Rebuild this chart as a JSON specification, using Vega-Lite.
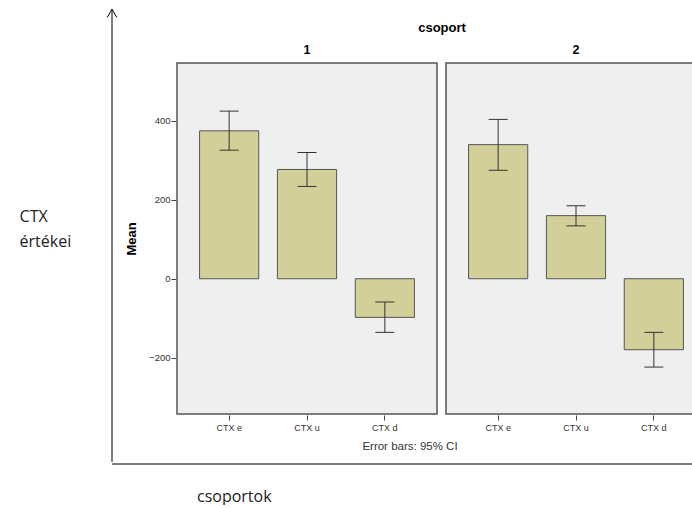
{
  "$schema": "https://vega.github.io/schema/vega-lite/v6.json",
  "background": "white",
  "padding": {"left": 19, "top": 7, "right": 0, "bottom": 0},
  "title": {
    "text": ["CTX", "értékei"],
    "orient": "left",
    "angle": 0,
    "align": "left",
    "baseline": "middle",
    "anchor": "middle",
    "offset": 34,
    "font": "Open Sans",
    "fontSize": 16,
    "fontWeight": "normal",
    "color": "#222222",
    "lineHeight": 25,
    "dy": -39
  },
  "spacing": 0,
  "vconcat": [
    {
      "spacing": 6,
      "hconcat": [
        {
          "width": 1,
          "height": 399,
          "view": {"stroke": null, "fill": null},
          "data": {"values": [{}]},
          "layer": [
            {
              "mark": {"type": "rule", "color": "#000000", "strokeWidth": 1},
              "encoding": {
                "x": {"datum": 0, "scale": {"domain": [0, 1]}, "axis": null},
                "y": {"datum": 0, "scale": {"domain": [0, 1]}, "axis": null},
                "y2": {"datum": 1.135}
              }
            },
            {
              "mark": {"type": "point", "shape": "M-0.8,1.4L0,0L0.8,1.4", "filled": false, "stroke": "#000000", "strokeWidth": 1, "size": 144, "opacity": 1},
              "encoding": {
                "x": {"datum": 0, "axis": null},
                "y": {"datum": 1.135, "axis": null}
              }
            }
          ]
        },
        {
          "data": {
            "values": [
              {"csoport": "1", "valtozo": "CTX e", "mean": 375, "lo": 326, "hi": 425},
              {"csoport": "1", "valtozo": "CTX u", "mean": 277, "lo": 234, "hi": 320},
              {"csoport": "1", "valtozo": "CTX d", "mean": -98, "lo": -136, "hi": -59},
              {"csoport": "2", "valtozo": "CTX e", "mean": 340, "lo": 275, "hi": 404},
              {"csoport": "2", "valtozo": "CTX u", "mean": 160, "lo": 134, "hi": 185},
              {"csoport": "2", "valtozo": "CTX d", "mean": -180, "lo": -224, "hi": -136}
            ]
          },
          "title": {"text": "Error bars: 95% CI", "orient": "bottom", "anchor": "middle", "frame": "group", "dx": 233, "offset": 9, "font": "Liberation Sans", "fontSize": 11.5, "fontWeight": "normal", "color": "#333333"},
          "spacing": 7,
          "facet": {
            "column": {
              "field": "csoport",
              "type": "ordinal",
              "header": {
                "title": "csoport",
                "titleFont": "Liberation Sans",
                "titleFontSize": 13,
                "titleFontWeight": "bold",
                "titleColor": "#000000",
                "titlePadding": -2,
                "labelFont": "Liberation Sans",
                "labelFontSize": 12.5,
                "labelFontWeight": "bold",
                "labelColor": "#000000",
                "labelPadding": 6
              }
            }
          },
          "spec": {
            "width": 260,
            "height": 351,
            "layer": [
              {
                "mark": {"type": "bar", "fill": "#d3cf98", "stroke": "#555555", "strokeWidth": 1},
                "encoding": {
                  "x": {
                    "field": "valtozo", "type": "nominal", "sort": ["CTX e", "CTX u", "CTX d"],
                    "scale": {"paddingInner": 0.24, "paddingOuter": 0.29},
                    "axis": {"title": null, "labelAngle": 0, "domain": false, "ticks": true, "tickSize": 5, "tickColor": "#444444", "labelFontSize": 9, "labelColor": "#333333", "labelPadding": 3}
                  },
                  "y": {
                    "field": "mean", "type": "quantitative",
                    "scale": {"domain": [-343, 547], "nice": false, "zero": false},
                    "axis": {"title": "Mean", "values": [-200, 0, 200, 400], "domain": false, "grid": false, "tickSize": 5, "tickColor": "#444444", "labelFontSize": 9.5, "labelColor": "#333333", "labelPadding": 1, "titleFontSize": 13, "titleFontWeight": "bold", "titleColor": "#000000", "titlePadding": 10}
                  }
                }
              },
              {
                "mark": {"type": "rule", "color": "#333333", "strokeWidth": 1},
                "encoding": {
                  "x": {"field": "valtozo", "type": "nominal", "sort": ["CTX e", "CTX u", "CTX d"]},
                  "y": {"field": "lo", "type": "quantitative"},
                  "y2": {"field": "hi"}
                }
              },
              {
                "mark": {"type": "tick", "color": "#333333", "size": 19, "thickness": 1, "opacity": 1},
                "encoding": {
                  "x": {"field": "valtozo", "type": "nominal", "sort": ["CTX e", "CTX u", "CTX d"]},
                  "y": {"field": "hi", "type": "quantitative"}
                }
              },
              {
                "mark": {"type": "tick", "color": "#333333", "size": 19, "thickness": 1, "opacity": 1},
                "encoding": {
                  "x": {"field": "valtozo", "type": "nominal", "sort": ["CTX e", "CTX u", "CTX d"]},
                  "y": {"field": "lo", "type": "quantitative"}
                }
              }
            ]
          }
        }
      ]
    },
    {
      "width": 600,
      "height": 1,
      "view": {"stroke": null, "fill": null},
      "data": {"values": [{}]},
      "title": {"text": "csoportok", "orient": "bottom", "anchor": "start", "frame": "group", "dx": 85, "offset": 24, "font": "Open Sans", "fontSize": 16, "fontWeight": "normal", "color": "#222222"},
      "mark": {"type": "rule", "color": "#555555", "strokeWidth": 1.5},
      "encoding": {
        "y": {"datum": 1, "scale": {"domain": [0, 1]}, "axis": null}
      }
    }
  ],
  "config": {
    "font": "Liberation Sans",
    "view": {"stroke": "#555555", "strokeWidth": 1.5, "fill": "#efefef"},
    "axis": {"labelFont": "Liberation Sans", "titleFont": "Liberation Sans"}
  }
}
